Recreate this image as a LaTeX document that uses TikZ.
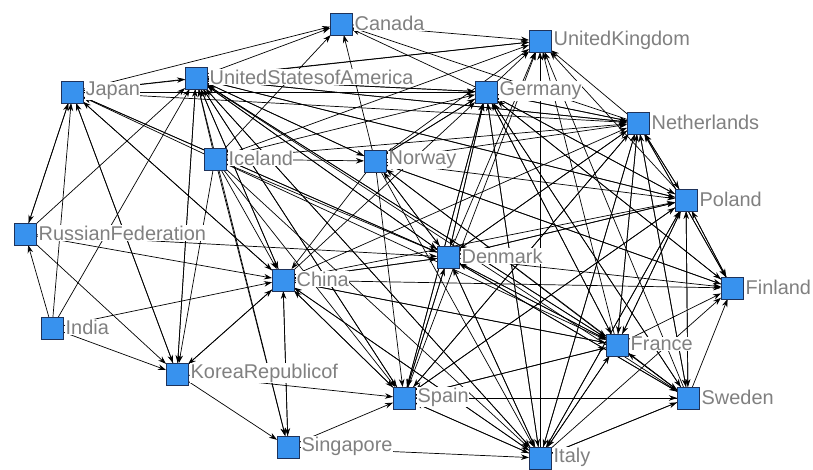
\documentclass[tikz,border=0pt]{standalone}
\usepackage{fontspec}
\setmainfont{Liberation Sans}
\usetikzlibrary{arrows.meta}
\pgfdeclarelayer{edgelayer}
\pgfsetlayers{edgelayer,main}
\definecolor{nodeblue}{RGB}{56,146,238}
\definecolor{nodeedge}{RGB}{30,50,90}
\definecolor{labelgray}{RGB}{128,128,128}
\begin{document}
\begin{tikzpicture}[x=1bp,y=-1bp,
  sq/.style={draw=nodeedge,line width=0.8bp,fill=nodeblue,minimum size=22bp,inner sep=0pt,outer sep=0pt},
  lab/.style={anchor=west,text=labelgray,fill=white,inner sep=0.5bp,font=\fontsize{20}{22}\selectfont},
  edge/.style={line width=0.7bp,-{Stealth[length=8bp,width=5.5bp]}}]
\begin{pgfonlayer}{edgelayer}
\useasboundingbox[fill=white] (0,0) rectangle (813,470);
\end{pgfonlayer}
% squares
\node[sq] (can) at (341,24) {};
\node[sq] (uk) at (540,41) {};
\node[sq] (jp) at (72,92) {};
\node[sq] (us) at (196,78) {};
\node[sq] (de) at (486,92) {};
\node[sq] (nl) at (638,123) {};
\node[sq] (is) at (215,159) {};
\node[sq] (no) at (375,161) {};
\node[sq] (pl) at (686,200) {};
\node[sq] (ru) at (25,234) {};
\node[sq] (dk) at (448,257) {};
\node[sq] (cn) at (283,280) {};
\node[sq] (fi) at (732,288) {};
\node[sq] (in) at (52,328) {};
\node[sq] (fr) at (617,345) {};
\node[sq] (kr) at (177,374) {};
\node[sq] (es) at (404,398) {};
\node[sq] (se) at (688,398) {};
\node[sq] (sg) at (288,447) {};
\node[sq] (it) at (540,458) {};
% edges
\begin{pgfonlayer}{edgelayer}
\foreach \a/\b in {
 jp/us,jp/can,jp/de,jp/nl,jp/uk,jp/ru,jp/cn,jp/kr,jp/dk,
 ru/jp,in/jp,is/jp,cn/jp,dk/jp,kr/jp,
 ru/cn,ru/kr,ru/dk,ru/us,in/ru,
 in/kr,in/cn,in/us,
 us/can,us/uk,us/de,us/nl,us/pl,us/cn,us/kr,us/sg,us/es,us/dk,us/fr,us/it,us/no,
 is/us,no/us,de/us,nl/us,dk/us,fr/us,cn/us,es/us,it/us,pl/us,kr/us,se/us,
 is/can,is/uk,is/de,is/nl,is/no,is/dk,is/cn,is/kr,is/sg,is/fr,is/es,is/it,
 no/can,no/uk,no/de,no/nl,no/pl,no/dk,no/es,no/fr,no/it,no/fi,no/cn,
 de/no,dk/no,se/no,fi/no,
 can/uk,de/uk,nl/uk,pl/uk,dk/uk,fr/uk,it/uk,es/uk,se/uk,
 de/nl,de/pl,de/dk,de/es,de/fr,de/it,de/fi,de/se,de/can,
 nl/de,pl/de,dk/de,fr/de,it/de,es/de,se/de,fi/de,cn/de,
 nl/pl,nl/dk,nl/fr,nl/it,nl/es,nl/se,nl/fi,nl/can,
 pl/nl,dk/nl,fr/nl,it/nl,se/nl,fi/nl,es/nl,cn/nl,
 pl/fi,pl/fr,pl/it,pl/es,pl/dk,pl/se,
 fr/pl,it/pl,se/pl,dk/pl,es/pl,fi/pl,cn/pl,
 dk/cn,dk/fr,dk/es,dk/it,dk/fi,dk/se,
 fr/dk,it/dk,es/dk,se/dk,cn/dk,
 cn/fr,cn/es,cn/it,cn/sg,cn/kr,cn/fi,
 kr/cn,fr/cn,es/cn,it/cn,sg/cn,
 se/fi,fr/fi,it/fi,
 fr/it,fr/es,fr/se,it/fr,es/fr,se/fr,
 es/it,es/se,it/es,se/es,sg/es,kr/es,
 se/it,it/se,sg/it,kr/sg}
 \draw[edge] (\a) -- (\b);
\end{pgfonlayer}
% labels
\node[lab] at ([xshift=2bp,yshift=1bp]can.east) {Canada};
\node[lab] at ([xshift=2bp,yshift=1bp]uk.east) {UnitedKingdom};
\node[lab] at ([xshift=2bp,yshift=1bp]jp.east) {Japan};
\node[lab] at ([xshift=2bp,yshift=1bp]us.east) {UnitedStatesofAmerica};
\node[lab] at ([xshift=2bp,yshift=1bp]de.east) {Germany};
\node[lab] at ([xshift=2bp,yshift=1bp]nl.east) {Netherlands};
\node[lab] at ([xshift=2bp,yshift=1bp]is.east) {Iceland};
\node[lab] at ([xshift=2bp,yshift=1bp]no.east) {Norway};
\node[lab] at ([xshift=2bp,yshift=1bp]pl.east) {Poland};
\node[lab] at ([xshift=2bp,yshift=1bp]ru.east) {RussianFederation};
\node[lab] at ([xshift=2bp,yshift=1bp]dk.east) {Denmark};
\node[lab] at ([xshift=2bp,yshift=1bp]cn.east) {China};
\node[lab] at ([xshift=2bp,yshift=1bp]fi.east) {Finland};
\node[lab] at ([xshift=2bp,yshift=1bp]in.east) {India};
\node[lab] at ([xshift=2bp,yshift=1bp]fr.east) {France};
\node[lab] at ([xshift=2bp,yshift=1bp]kr.east) {KoreaRepublicof};
\node[lab] at ([xshift=2bp,yshift=1bp]es.east) {Spain};
\node[lab] at ([xshift=2bp,yshift=1bp]se.east) {Sweden};
\node[lab] at ([xshift=2bp,yshift=1bp]sg.east) {Singapore};
\node[lab] at ([xshift=2bp,yshift=1bp]it.east) {Italy};
\end{tikzpicture}
\end{document}
